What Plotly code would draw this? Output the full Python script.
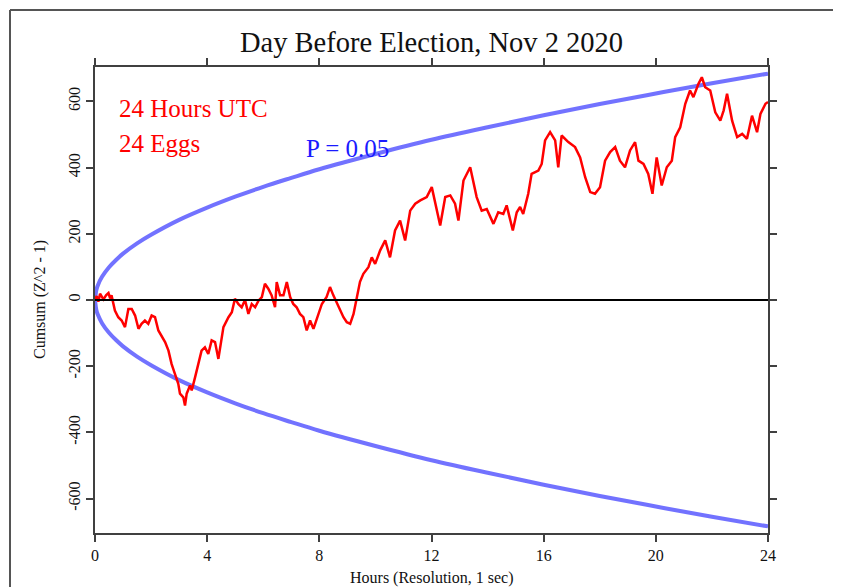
import plotly.graph_objects as go

# ---- data ----
hours = [0.00, 0.06, 0.12, 0.18, 0.30, 0.40, 0.48, 0.54, 0.59, 0.71, 0.83, 0.95, 1.07, 1.19, 1.31,
         1.43, 1.55, 1.66, 1.78, 1.90, 2.02, 2.14, 2.26, 2.38, 2.50, 2.62, 2.73, 2.85, 2.97, 3.03,
         3.15, 3.21, 3.27, 3.39, 3.45, 3.57, 3.69, 3.80, 3.92, 4.04, 4.16, 4.28, 4.40, 4.46, 4.58,
         4.76, 4.88, 4.99, 5.11, 5.23, 5.35, 5.47, 5.59, 5.71, 5.83, 5.95, 6.06, 6.18, 6.30, 6.42,
         6.48, 6.60, 6.72, 6.84, 6.96, 7.07, 7.19, 7.31, 7.43, 7.55, 7.67, 7.79, 7.91, 8.09, 8.26,
         8.38, 8.50, 8.62, 8.74, 8.86, 8.98, 9.10, 9.22, 9.33, 9.45, 9.57, 9.75, 9.87, 9.99, 10.17,
         10.35, 10.52, 10.70, 10.88, 11.06, 11.24, 11.42, 11.60, 11.83, 12.01, 12.13, 12.31, 12.49,
         12.67, 12.84, 12.96, 13.14, 13.38, 13.61, 13.79, 13.97, 14.21, 14.38, 14.56, 14.68, 14.90,
         15.04, 15.16, 15.27, 15.45, 15.57, 15.81, 15.93, 16.05, 16.23, 16.41, 16.52, 16.64, 16.88,
         17.12, 17.30, 17.48, 17.66, 17.83, 18.01, 18.19, 18.37, 18.55, 18.72, 18.90, 19.08, 19.26,
         19.38, 19.56, 19.73, 19.88, 20.03, 20.21, 20.39, 20.57, 20.69, 20.87, 21.05, 21.22, 21.34,
         21.52, 21.64, 21.76, 21.94, 22.12, 22.30, 22.42, 22.54, 22.72, 22.90, 23.08, 23.25, 23.43,
         23.61, 23.73, 23.91, 24.00]
cumsum = [0, 12, -5, 19, 2, 15, 21, 5, 14, -32, -52, -62, -82, -27, -27,
          -47, -87, -72, -62, -72, -47, -52, -92, -112, -127, -153, -193, -223, -253, -283,
          -294, -319, -283, -258, -273, -233, -193, -153, -143, -163, -122, -127, -178, -148, -82,
          -52, -37, 4, -12, -22, 0, -42, -12, -22, -2, 9, 49, 34, 14, -22,
          54, 14, 14, 54, 9, -12, -22, -42, -52, -92, -62, -87, -57, -12, 9,
          39, 14, -7, -32, -52, -67, -72, -42, 9, 55, 79, 99, 129, 109, 150,
          180, 129, 210, 240, 180, 270, 291, 301, 311, 341, 291, 225, 311,
          316, 291, 240, 361, 401, 311, 270, 275, 230, 265, 260, 286, 210,
          265, 281, 260, 321, 381, 391, 411, 482, 507, 482, 401, 497, 477,
          462, 431, 371, 326, 321, 341, 421, 447, 462, 421, 401, 452, 477,
          421, 411, 381, 321, 431, 346, 401, 421, 492, 522, 593, 633, 613,
          653, 673, 643, 633, 567, 542, 573, 623, 542, 492, 502, 487, 557,
          507, 562, 593, 598]

env_hours = [0, 0.05, 0.1, 0.25, 0.5, 0.75, 1, 1.5, 2, 3, 4, 5, 6, 7, 8, 10, 12, 14, 16, 18, 20, 22, 24]
env_upper = [0, 31, 44, 70, 99, 121, 140, 171, 197, 242, 279, 312, 342, 369, 395, 441, 484, 522, 558, 592, 624, 655, 684]
env_lower = [0, -31, -44, -70, -99, -121, -140, -171, -197, -242, -279, -312, -342, -369, -395, -441, -484, -522, -558, -592, -624, -655, -684]

x_ticks = [0, 4, 8, 12, 16, 20, 24]
y_ticks = [-600, -400, -200, 0, 200, 400, 600]
zero_x = [0, 24]
zero_y = [0, 0]

title = "Day Before Election, Nov 2 2020"
x_title = "Hours (Resolution, 1 sec)"
y_title = "Cumsum (Z^2 - 1)"

SERIF = "Liberation Serif"
BLUE = "rgba(60,60,255,0.72)"
AXC = "#404040"

fig = go.Figure()
fig.add_trace(go.Scatter(x=env_hours, y=env_upper, mode="lines",
                         line=dict(color=BLUE, width=4, shape="spline"), hoverinfo="skip"))
fig.add_trace(go.Scatter(x=env_hours, y=env_lower, mode="lines",
                         line=dict(color=BLUE, width=4, shape="spline"), hoverinfo="skip"))
fig.add_trace(go.Scatter(x=hours, y=cumsum, mode="lines",
                         line=dict(color="#ff0000", width=2.5)))
fig.add_trace(go.Scatter(x=zero_x, y=zero_y, mode="lines",
                         line=dict(color="black", width=2), hoverinfo="skip"))

axis_common = dict(showgrid=False, zeroline=False, showline=True, linecolor=AXC, linewidth=2,
                   ticks="outside", ticklen=7, tickwidth=2, tickcolor=AXC, mirror="ticks",
                   tickfont=dict(family=SERIF, size=16, color="#111"))

fig.update_xaxes(range=[0, 24], tickvals=x_ticks, ticktext=[str(v) for v in x_ticks], **axis_common)
fig.update_yaxes(range=[-704, 704], tickvals=y_ticks, ticktext=[str(v) for v in y_ticks],
                 tickangle=-90, **axis_common)

fig.update_layout(
    width=841, height=587,
    margin=dict(l=87, r=81, t=59, b=62),
    plot_bgcolor="white", paper_bgcolor="white",
    showlegend=False,
    font=dict(family=SERIF, color="#111"),
    title=dict(text=title, x=0.5036, xanchor="center", y=1 - 34 / 587, yanchor="middle",
               font=dict(family=SERIF, size=28.5, color="#111")),
    annotations=[
        dict(text=x_title, xref="paper", yref="paper", x=0.5, y=-0.0966, xanchor="center",
             yanchor="middle", showarrow=False, font=dict(family=SERIF, size=16, color="#111")),
        dict(text=y_title, xref="paper", yref="paper", x=-0.0817, y=0.5, xanchor="center",
             yanchor="middle", textangle=-90, showarrow=False,
             font=dict(family=SERIF, size=16, color="#111")),
        dict(text="24 Hours UTC", x=0.78, y=578, xanchor="left", yanchor="middle",
             showarrow=False, font=dict(family=SERIF, size=25, color="#ff0000")),
        dict(text="24 Eggs", x=0.78, y=474, xanchor="left", yanchor="middle",
             showarrow=False, font=dict(family=SERIF, size=25, color="#ff0000")),
        dict(text="P = 0.05", x=7.45, y=459, xanchor="left", yanchor="middle",
             showarrow=False, font=dict(family=SERIF, size=25, color="#1a1aff")),
    ],
    shapes=[
        dict(type="line", xref="paper", yref="paper", x0=-0.1263, x1=1.13, y0=1.1223, y1=1.1223,
             line=dict(color="#555", width=2)),
        dict(type="line", xref="paper", yref="paper", x0=-0.1263, x1=-0.1263, y0=1.1223, y1=-0.14,
             line=dict(color="#555", width=2)),
    ],
)

fig.write_html("out.html")
